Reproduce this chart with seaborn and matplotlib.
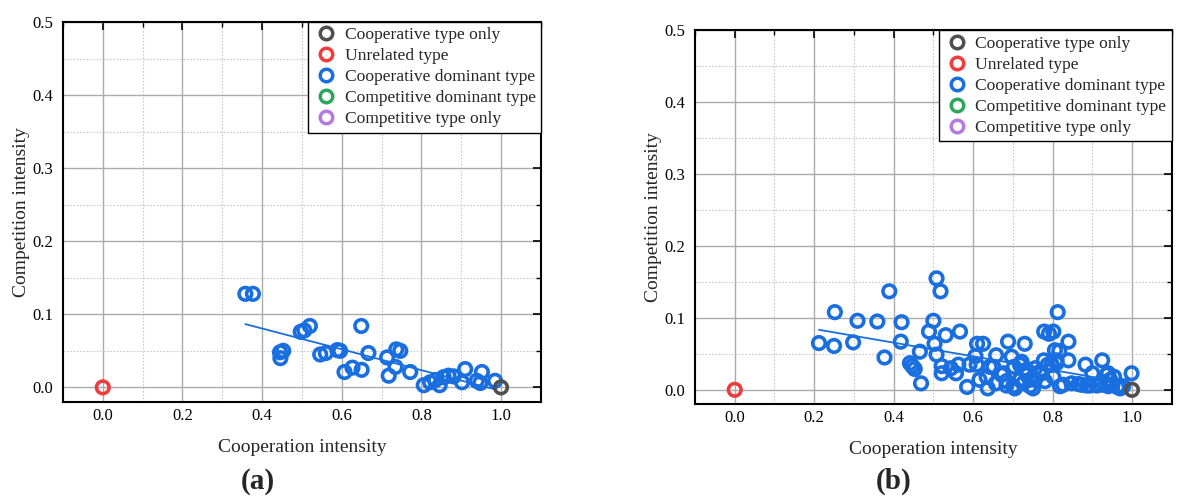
import matplotlib
matplotlib.use("Agg")
import matplotlib.pyplot as plt
from matplotlib.lines import Line2D
from matplotlib.ticker import MultipleLocator
import seaborn as sns
import numpy as np
import pandas as pd

# legend categories and colours
types = ["Cooperative type only", "Unrelated type", "Cooperative dominant type",
         "Competitive dominant type", "Competitive type only"]
colors = ["#4f4f4f", "#f03c3c", "#1a6fe0", "#2ea55c", "#b37be0"]

# fixed points (cooperative only at (1,0), unrelated at (0,0))
coop_only_x = [1.0]
coop_only_y = [0.0]
unrelated_x = [0.0]
unrelated_y = [0.0]

# panel (a) cooperative dominant points
a_x = [0.358, 0.377, 0.445, 0.453, 0.446, 0.497, 0.506, 0.520, 0.546, 0.560,
       0.589, 0.596, 0.607, 0.627, 0.650, 0.649, 0.667, 0.714, 0.737, 0.747,
       0.735, 0.718, 0.772, 0.806, 0.822, 0.835, 0.846, 0.856, 0.868, 0.881,
       0.902, 0.910, 0.939, 0.952, 0.948, 0.985]
a_y = [0.128, 0.128, 0.048, 0.050, 0.040, 0.076, 0.078, 0.084, 0.045, 0.047,
       0.051, 0.050, 0.021, 0.027, 0.024, 0.084, 0.047, 0.041, 0.052, 0.050,
       0.028, 0.016, 0.021, 0.003, 0.007, 0.010, 0.003, 0.014, 0.016, 0.015,
       0.007, 0.025, 0.009, 0.021, 0.006, 0.009]

# panel (b) cooperative dominant points
b_x = [0.212, 0.250, 0.252, 0.298, 0.309, 0.359, 0.377, 0.389, 0.420, 0.418,
       0.441, 0.447, 0.453, 0.466, 0.469, 0.489, 0.500, 0.508, 0.518, 0.503,
       0.508, 0.531, 0.521, 0.521, 0.544, 0.557, 0.567, 0.563, 0.585, 0.591,
       0.606, 0.610, 0.625, 0.609, 0.616, 0.637, 0.658, 0.651, 0.657, 0.676,
       0.688, 0.697, 0.703, 0.684, 0.705, 0.718, 0.730, 0.735, 0.743, 0.751,
       0.756, 0.773, 0.779, 0.791, 0.802, 0.778, 0.788, 0.781, 0.806, 0.813,
       0.817, 0.840, 0.840, 0.810, 0.819, 0.827, 0.848, 0.883, 0.886, 0.900,
       0.911, 0.925, 0.936, 0.945, 0.955, 0.951, 0.963, 0.940, 0.999, 0.970,
       0.865, 0.894, 0.684, 0.672, 0.722, 0.718, 0.642, 0.634, 0.735, 0.756,
       0.726, 0.743, 0.768, 0.802, 0.873, 0.919, 0.940, 0.978, 0.798, 0.810,
       0.932, 0.701]
b_y = [0.065, 0.061, 0.108, 0.066, 0.096, 0.095, 0.045, 0.137, 0.094, 0.067,
       0.037, 0.033, 0.029, 0.053, 0.009, 0.081, 0.096, 0.155, 0.137, 0.064,
       0.049, 0.076, 0.033, 0.023, 0.030, 0.023, 0.081, 0.035, 0.004, 0.035,
       0.047, 0.064, 0.064, 0.035, 0.014, 0.002, 0.048, 0.032, 0.009, 0.023,
       0.067, 0.046, 0.032, 0.006, 0.002, 0.035, 0.064, 0.028, 0.014, 0.002,
       0.030, 0.023, 0.081, 0.078, 0.081, 0.041, 0.035, 0.012, 0.055, 0.108,
       0.054, 0.067, 0.041, 0.037, 0.005, 0.007, 0.009, 0.035, 0.006, 0.023,
       0.006, 0.041, 0.021, 0.014, 0.018, 0.007, 0.004, 0.005, 0.023, 0.002,
       0.008, 0.006, 0.012, 0.021, 0.039, 0.014, 0.032, 0.018, 0.021, 0.014,
       0.009, 0.005, 0.025, 0.018, 0.007, 0.007, 0.023, 0.005, 0.035, 0.041,
       0.007, 0.005]

x_ticks = [0.0, 0.2, 0.4, 0.6, 0.8, 1.0]
y_ticks = [0.0, 0.1, 0.2, 0.3, 0.4, 0.5]

sns.set_style("white")
plt.rcParams["font.family"] = ["Liberation Serif", "DejaVu Serif"]

palette = dict(zip(types, colors))


def make_frame(dom_x, dom_y):
    df = pd.DataFrame({
        "x": list(dom_x) + coop_only_x + unrelated_x,
        "y": list(dom_y) + coop_only_y + unrelated_y,
        "type": [types[2]] * len(dom_x) + [types[0]] * len(coop_only_x) + [types[1]] * len(unrelated_x),
    })
    return df


def draw_panel(ax, dom_x, dom_y):
    df = make_frame(dom_x, dom_y)
    ax.set_axisbelow(True)
    ax.set_xlim(-0.1, 1.1)
    ax.set_ylim(-0.02, 0.5)
    ax.xaxis.set_major_locator(MultipleLocator(0.2))
    ax.xaxis.set_minor_locator(MultipleLocator(0.1))
    ax.yaxis.set_major_locator(MultipleLocator(0.1))
    ax.yaxis.set_minor_locator(MultipleLocator(0.05))
    ax.grid(True, which="major", color="#ababab", lw=1.0, ls="-")
    ax.grid(True, which="minor", color="#c8c8c8", lw=0.8, ls=(0, (1.5, 1.5)))

    sns.regplot(x=np.array(dom_x), y=np.array(dom_y), scatter=False, ci=None,
                color=colors[2], line_kws={"lw": 1.3}, ax=ax)
    sns.scatterplot(data=df, x="x", y="y", hue="type", hue_order=types,
                    palette=palette, s=82, linewidth=2.6, legend=False, ax=ax,
                    zorder=3)
    # open circles
    for coll in ax.collections:
        fc = coll.get_facecolors()
        if len(fc):
            coll.set_edgecolors(fc)
            coll.set_facecolors("none")

    ax.set_xticks(x_ticks)
    ax.set_yticks(y_ticks)
    ax.set_xticklabels([f"{v:.1f}" for v in x_ticks])
    ax.set_yticklabels([f"{v:.1f}" for v in y_ticks])
    ax.tick_params(which="both", direction="in", top=True, right=True,
                   labelsize=12, colors="black")
    ax.tick_params(axis="x", pad=4)
    ax.tick_params(axis="y", pad=7)
    ax.tick_params(which="major", length=6, width=1.2)
    ax.tick_params(which="minor", length=3.5, width=1.0)
    for sp in ax.spines.values():
        sp.set_visible(True)
        sp.set_color("black")
        sp.set_linewidth(1.5)
    ax.set_xlabel("Cooperation intensity", fontsize=14, labelpad=11)
    ax.set_ylabel("Competition intensity", fontsize=14, labelpad=2)

    handles = [Line2D([], [], ls="none", marker="o", ms=9, mfc="none",
                      mec=c, mew=2.5) for c in colors]
    leg = ax.legend(handles, types, loc="upper right", fontsize=12.6,
                    frameon=True, fancybox=False, framealpha=1,
                    borderaxespad=0, handletextpad=0.3, labelspacing=0.27,
                    borderpad=0.3, handlelength=1.5)
    leg.get_frame().set_edgecolor("black")
    leg.get_frame().set_linewidth(1.0)


fig = plt.figure(figsize=(11.77, 5.04), dpi=100)
ax1 = fig.add_axes([0.0535, 0.2024, 0.406, 0.754])
ax2 = fig.add_axes([0.5905, 0.198, 0.405, 0.742])

draw_panel(ax1, a_x, a_y)
draw_panel(ax2, b_x, b_y)

fig.text(0.219, 0.045, "(a)", ha="center", va="center", fontsize=21, fontweight="bold")
fig.text(0.759, 0.045, "(b)", ha="center", va="center", fontsize=21, fontweight="bold")

fig.savefig("out.png", dpi=100)
